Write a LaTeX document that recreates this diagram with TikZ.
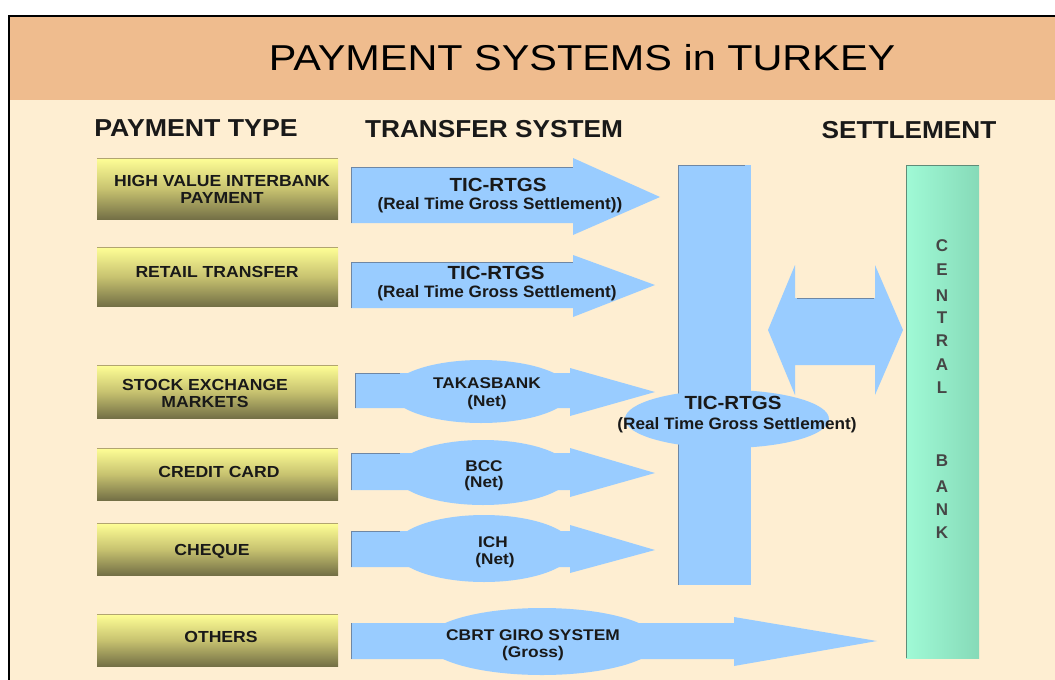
\documentclass[tikz,border=0pt]{standalone}
\usepackage{fontspec}
\setmainfont{Liberation Sans}
\definecolor{hdr}{RGB}{239,188,142}
\definecolor{bg}{RGB}{254,238,210}
\definecolor{ablue}{RGB}{153,204,255}
\definecolor{ylw}{RGB}{255,255,150}
\definecolor{olv}{RGB}{116,112,70}
\definecolor{olvm}{RGB}{200,195,112}
\definecolor{boxedge}{RGB}{178,165,112}
\definecolor{mintA}{RGB}{160,250,214}
\definecolor{mintB}{RGB}{134,218,184}
\definecolor{mintedge}{RGB}{95,140,120}
\definecolor{bedge}{RGB}{110,135,165}
\definecolor{lettergray}{RGB}{70,70,70}
\newcommand{\hsc}[2]{\scalebox{#1}[1]{#2}}
\begin{document}
\begin{tikzpicture}[x=1pt,y=-1pt,
  ptbox/.style={top color=ylw, bottom color=olv, middle color=olvm, draw=none},
  ptlabel/.style={font=\fontsize{16}{17}\selectfont\bfseries, align=center, inner sep=0pt, text=black!90},
  heading/.style={font=\fontsize{24.5}{26}\selectfont\bfseries, inner sep=0pt, text=black!90},
  blockarrow/.style={fill=ablue, draw=none},
  shadowedge/.style={draw=bedge, line width=0.8pt},
  arrtitle/.style={font=\fontsize{19}{20}\selectfont\bfseries, inner sep=0pt, text=black!90},
  arrsub/.style={font=\fontsize{16.5}{18}\selectfont\bfseries, inner sep=0pt, text=black!90},
  netlabel/.style={font=\fontsize{15.5}{18}\selectfont\bfseries, inner sep=0pt, text=black!90},
  cbletter/.style={font=\fontsize{17}{18}\selectfont\bfseries, inner sep=0pt, text=lettergray}]
% canvas
\useasboundingbox (0,0) rectangle (1055,680);
\fill[white] (0,0) rectangle (1055,680);
\fill[bg] (9,16) rectangle (1055,680);
\fill[hdr] (9,16) rectangle (1055,100);
\draw[black, line width=2pt] (9,680) -- (9,16) -- (1055,16);
% title and headings
\node[font=\fontsize{36}{40}\selectfont, inner sep=0pt] (title) at (582,58) {\hsc{1.15}{PAYMENT SYSTEMS in TURKEY}};
\node[heading] (hpt) at (196,128) {\hsc{1.09}{PAYMENT TYPE}};
\node[heading] (hts) at (494,129) {\hsc{1.07}{TRANSFER SYSTEM}};
\node[heading] (hst) at (909,130) {\hsc{1.07}{SETTLEMENT}};
% payment type boxes
\foreach \nm/\ya/\yb in {b1/158/219, b2/247/306, b3/365/418, b4/448/500, b5/523/575, b6/614/666}{
  \path[ptbox] (97,\ya) rectangle (338,\yb);
  \draw[boxedge, line width=1pt] (97,\ya) -- (338,\ya);
}
\node[ptlabel] (l1) at (222,192) {\hsc{1.1}{\begin{tabular}{@{}c@{}}HIGH VALUE INTERBANK\\PAYMENT\end{tabular}}};
\node[ptlabel] (l2) at (217,272) {\hsc{1.1}{RETAIL TRANSFER}};
\node[ptlabel] (l3) at (205,396) {\hsc{1.1}{\begin{tabular}{@{}c@{}}STOCK EXCHANGE\\MARKETS\end{tabular}}};
\node[ptlabel] (l4) at (219,472) {\hsc{1.1}{CREDIT CARD}};
\node[ptlabel] (l5) at (212,551) {\hsc{1.1}{CHEQUE}};
\node[ptlabel] (l6) at (221,637) {\hsc{1.1}{OTHERS}};
% RTGS arrows
\fill[blockarrow] (351,167) -- (573,167) -- (573,158) -- (660,197) -- (573,235) -- (573,223) -- (351,223) -- cycle;
\draw[shadowedge] (351.4,223) -- (351.4,167) -- (573,167);
\fill[blockarrow] (351,262) -- (573,262) -- (573,255) -- (655,285) -- (573,317) -- (573,308) -- (351,308) -- cycle;
\draw[shadowedge] (351.4,308) -- (351.4,262) -- (573,262);
\node[arrtitle] (t1) at (498,185) {\hsc{1.08}{TIC-RTGS}};
\node[arrsub] (s1) at (500,205) {\hsc{1.04}{(Real Time Gross Settlement))}};
\node[arrtitle] (t2) at (496,273) {\hsc{1.08}{TIC-RTGS}};
\node[arrsub] (s2) at (497,293) {\hsc{1.04}{(Real Time Gross Settlement)}};
% net arrows with bulges
\fill[blockarrow] (355,373) -- (570,373) -- (570,368) -- (655,392) -- (570,416) -- (570,408) -- (355,408) -- cycle;
\draw[shadowedge] (355.4,408) -- (355.4,373) -- (400,373);
\fill[blockarrow] (481,391.5) ellipse [x radius=90, y radius=31.5];
\fill[blockarrow] (351,453) -- (570,453) -- (570,448) -- (655,473) -- (570,497) -- (570,490) -- (351,490) -- cycle;
\draw[shadowedge] (351.4,490) -- (351.4,453) -- (400,453);
\fill[blockarrow] (483,472.5) ellipse [x radius=89, y radius=32.5];
\fill[blockarrow] (351,531) -- (570,531) -- (570,525) -- (655,550) -- (570,573) -- (570,567) -- (351,567) -- cycle;
\draw[shadowedge] (351.4,567) -- (351.4,531) -- (400,531);
\fill[blockarrow] (484,548.5) ellipse [x radius=90, y radius=33.5];
\fill[blockarrow] (351,623) -- (734,623) -- (734,617) -- (877,641) -- (734,666) -- (734,659) -- (351,659) -- cycle;
\draw[shadowedge] (351.4,659) -- (351.4,623);
\fill[blockarrow] (542,641.5) ellipse [x radius=116, y radius=33.5];
\node[netlabel] (t3) at (487,383) {\hsc{1.11}{TAKASBANK}};
\node[netlabel] (n3) at (487,402) {\hsc{1.11}{(Net)}};
\node[netlabel] (t4) at (484,466) {\hsc{1.11}{BCC}};
\node[netlabel] (n4) at (484,483) {\hsc{1.11}{(Net)}};
\node[netlabel] (t5) at (493,542) {\hsc{1.11}{ICH}};
\node[netlabel] (n5) at (495,560) {\hsc{1.11}{(Net)}};
\node[netlabel] (t6) at (533,635) {\hsc{1.12}{CBRT GIRO SYSTEM}};
\node[netlabel] (n6) at (533,653) {\hsc{1.12}{(Gross)}};
% central RTGS bar
\fill[blockarrow] (678,165) rectangle (751,585);
\draw[shadowedge] (678.4,585) -- (678.4,165.4) -- (745,165.4);
\fill[blockarrow] (727,419) ellipse [x radius=102, y radius=29];
\node[arrtitle] (tc) at (733,403) {\hsc{1.08}{TIC-RTGS}};
\node[arrsub] (sc) at (737,425) {\hsc{1.04}{(Real Time Gross Settlement)}};
% double arrow
\fill[blockarrow] (768,330) -- (795,265) -- (795,298) -- (875,298) -- (875,265) -- (903,330) -- (875,395) -- (875,365) -- (795,365) -- (795,395) -- cycle;
\draw[shadowedge] (797,298.4) -- (874,298.4);
% central bank
\path[left color=mintA, right color=mintB] (906,165) rectangle (979,658);
\draw[mintedge, line width=1pt] (906.5,658) -- (906.5,165.5) -- (979,165.5);
\foreach \ch/\yy [count=\i] in {C/246, E/270, N/296, T/318, R/341, A/365, L/388, B/461, A/487, N/510, K/533}{
  \node[cbletter] (cb\i) at (942,\yy) {\ch};
}
\end{tikzpicture}
\end{document}
